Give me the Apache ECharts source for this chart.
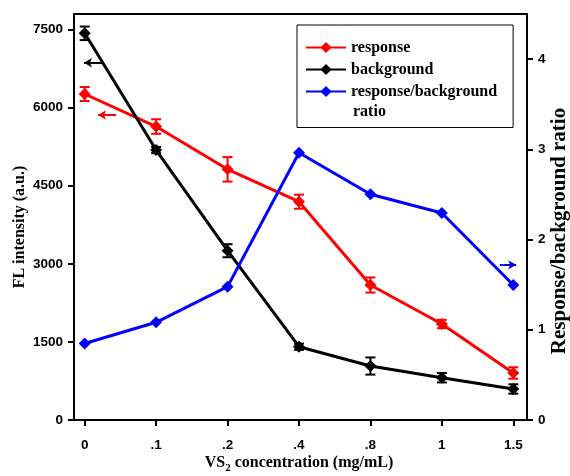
<!DOCTYPE html>
<html>
<head>
<meta charset="utf-8">
<script src="https://cdn.jsdelivr.net/npm/echarts@6/dist/echarts.min.js"></script>
<style>html,body{margin:0;padding:0;background:#fff;}#chart{width:570px;height:476px;}</style>
</head>
<body>
<div id="chart"></div>
<script>
// ---- data ----
const categories = ['0', '.1', '.2', '.4', '.8', '1', '1.5'];
const responseValues = [6263, 5638, 4816, 4194, 2593, 1844, 903];
const responseErrors = [135, 140, 235, 135, 145, 80, 110];
const backgroundValues = [7429, 5187, 3252, 1408, 1037, 812, 596];
const backgroundErrors = [130, 60, 125, 60, 165, 90, 90];
const ratioValues = [0.848, 1.083, 1.478, 2.963, 2.502, 2.295, 1.496];
const leftTickStep = 1500;
const rightTickStep = 1;

const serif = 'Liberation Serif';
const sans = 'Liberation Sans';

function errData(vals, errs) { return vals.map((v, i) => [i, v - errs[i], v + errs[i]]); }
function errSeries(vals, errs, color) {
  return {
    type: 'custom', xAxisIndex: 2, yAxisIndex: 2, z: 5, silent: true,
    data: errData(vals, errs),
    encode: { x: 0, y: [1, 2] },
    renderItem: function (params, api) {
      const x = api.value(0);
      const pHi = api.coord([x, api.value(2)]);
      const pLo = api.coord([x, api.value(1)]);
      const hw = 5;
      const st = { stroke: color, lineWidth: 2 };
      return { type: 'group', children: [
        { type: 'line', shape: { x1: pHi[0], y1: pHi[1], x2: pLo[0], y2: pLo[1] }, style: st },
        { type: 'line', shape: { x1: pHi[0] - hw, y1: pHi[1], x2: pHi[0] + hw, y2: pHi[1] }, style: st },
        { type: 'line', shape: { x1: pLo[0] - hw, y1: pLo[1], x2: pLo[0] + hw, y2: pLo[1] }, style: st }
      ] };
    }
  };
}
function arrow(color, from, to) {
  return [{ coord: from, lineStyle: { color: color, width: 2, type: 'solid' } }, { coord: to }];
}
function arrowSeries(yIdx, items) {
  return {
    type: 'line', xAxisIndex: 0, yAxisIndex: yIdx, data: [], silent: true,
    markLine: {
      silent: true, symbol: ['none', 'arrow'], symbolSize: [7, 8], animation: false,
      label: { show: false }, emphasis: { disabled: true },
      data: items
    }
  };
}

const chart = echarts.init(document.getElementById('chart'), null, { renderer: 'canvas' });
const axisLabelStyle = { fontFamily: sans, fontWeight: 'bold', fontSize: 13.5, color: '#000' };
const titleStyle = { fontFamily: serif, fontWeight: 'bold', fontSize: 16, color: '#000' };
const blackLine = { color: '#000', width: 2 };
const numFmt = v => String(v);

chart.setOption({
  animation: false,
  backgroundColor: '#fff',
  grid: [
    { left: 74, right: 43, top: 14, bottom: 56, outerBoundsMode: 'none' },   // frame grid
    { left: 49, right: 21, top: 14, bottom: 56, outerBoundsMode: 'none' }    // data grid
  ],
  xAxis: [{
    gridIndex: 0, type: 'value', min: 0, max: 1, position: 'bottom',
    axisLine: { show: true, onZero: false, lineStyle: blackLine },
    axisTick: { show: false }, axisLabel: { show: false }, splitLine: { show: false }
  }, {
    gridIndex: 0, type: 'value', min: 0, max: 1, position: 'top',
    axisLine: { show: true, onZero: false, lineStyle: blackLine },
    axisTick: { show: false }, axisLabel: { show: false }, splitLine: { show: false }
  }, {
    gridIndex: 1, type: 'category', data: categories, boundaryGap: true, position: 'bottom',
    name: '{a|VS}{b|2}{a| concentration (mg/mL)}',
    nameLocation: 'middle', nameGap: 33.5, nameMoveOverlap: false,
    nameTextStyle: { rich: {
      a: Object.assign({}, titleStyle, { verticalAlign: 'middle', lineHeight: 18 }),
      b: Object.assign({}, titleStyle, { fontSize: 11, verticalAlign: 'middle', lineHeight: 13, padding: [11, 0, 0, 0] })
    } },
    axisLine: { show: false },
    axisTick: { show: true, alignWithLabel: true, length: 6, lineStyle: blackLine },
    axisLabel: Object.assign({ margin: 18 }, axisLabelStyle),
    splitLine: { show: false }
  }],
  yAxis: [{
    gridIndex: 0, type: 'value', min: 0, max: 7800, interval: leftTickStep, position: 'left',
    name: 'FL intensity (a.u.)', nameLocation: 'middle', nameGap: 46, nameMoveOverlap: false,
    nameTextStyle: Object.assign({ padding: [0, 20, 0, 0] }, titleStyle),
    splitLine: { show: false },
    axisLine: { show: true, onZero: false, lineStyle: blackLine },
    axisTick: { show: true, length: 6, lineStyle: blackLine },
    axisLabel: Object.assign({ margin: 11, formatter: numFmt, showMaxLabel: false }, axisLabelStyle)
  }, {
    gridIndex: 0, type: 'value', min: 0, max: 4.5, interval: rightTickStep, position: 'right',
    name: 'Response/background ratio', nameLocation: 'middle', nameGap: 22, nameRotate: 90, nameMoveOverlap: false,
    nameTextStyle: Object.assign({}, titleStyle, { fontSize: 21, padding: [0, 28, 0, 0] }),
    splitLine: { show: false },
    axisLine: { show: true, onZero: false, lineStyle: blackLine },
    axisTick: { show: true, length: 6, lineStyle: blackLine },
    axisLabel: Object.assign({ margin: 11, formatter: numFmt, showMaxLabel: false }, axisLabelStyle)
  }, {
    gridIndex: 1, type: 'value', min: 0, max: 7800, show: false
  }, {
    gridIndex: 1, type: 'value', min: 0, max: 4.5, show: false
  }],
  legend: {
    orient: 'vertical', left: 297, top: 25,
    padding: [14.5, 16, 28, 8],
    borderColor: '#000', borderWidth: 1,
    itemWidth: 40, itemHeight: 14, itemGap: 6,
    textStyle: titleStyle,
    data: ['response', 'background', 'response/background ratio'],
    formatter: function (n) { return n === 'response/background ratio' ? 'response/background' : n; }
  },
  graphic: [{
    type: 'text', left: 353, top: 104,
    style: { text: 'ratio', font: 'bold 16px "Liberation Serif"', fill: '#000' }
  }],
  series: [
    {
      name: 'response', type: 'line', xAxisIndex: 2, yAxisIndex: 2, z: 3,
      data: responseValues, symbol: 'diamond', symbolSize: 12,
      itemStyle: { color: '#ff0000' }, lineStyle: { color: '#ff0000', width: 3 }
    },
    {
      name: 'background', type: 'line', xAxisIndex: 2, yAxisIndex: 2, z: 4,
      data: backgroundValues, symbol: 'diamond', symbolSize: 12,
      itemStyle: { color: '#000000' }, lineStyle: { color: '#000000', width: 3 }
    },
    {
      name: 'response/background ratio', type: 'line', xAxisIndex: 2, yAxisIndex: 3, z: 6,
      data: ratioValues, symbol: 'diamond', symbolSize: 12,
      itemStyle: { color: '#0000ff' }, lineStyle: { color: '#0000ff', width: 3 }
    },
    errSeries(responseValues, responseErrors, '#ff0000'),
    errSeries(backgroundValues, backgroundErrors, '#000000'),
    // axis-indicator arrows (frame grid: x in 0..1, y on left / right value scales)
    arrowSeries(0, [
      arrow('#000000', [0.062, 6864], [0.022, 6864]),
      arrow('#ff0000', [0.093, 5860], [0.053, 5860])
    ]),
    arrowSeries(1, [
      arrow('#0000ff', [0.940, 1.72], [0.976, 1.72])
    ])
  ]
});
</script>
</body>
</html>
